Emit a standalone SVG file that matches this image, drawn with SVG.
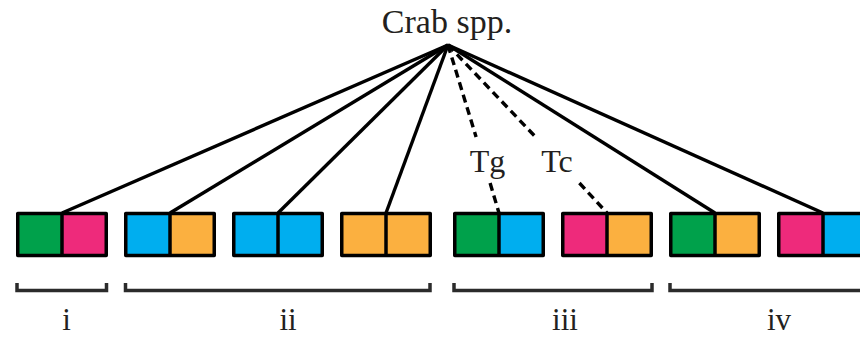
<svg xmlns="http://www.w3.org/2000/svg" width="860" height="337" viewBox="0 0 860 337">
<style>
.t{font-family:"Liberation Serif","Times New Roman",serif;fill:#231f20;text-anchor:middle}
.box{fill:none;stroke:#000;stroke-width:3.5;stroke-linejoin:round}
.div{stroke:#000;stroke-width:3.5}
.g{fill:#00a14b}.p{fill:#ee2a7b}.b{fill:#00aeef}.o{fill:#fbb040}
.c{stroke:#000;stroke-width:3.4;fill:none}
.d{stroke:#000;stroke-width:3.4;fill:none;stroke-dasharray:8 5}
.br{stroke:#2b2b2b;stroke-width:3.5;fill:none}
</style>
<rect width="860" height="337" fill="#fff"/>
<g id="root"><text class="t" x="447" y="33" font-size="34">Crab spp.</text></g>
<g id="connectors">
<line class="c" x1="448" y1="45" x2="62" y2="213"/>
<line class="c" x1="448" y1="45" x2="170" y2="213"/>
<line class="c" x1="448" y1="45" x2="278" y2="213"/>
<line class="c" x1="448" y1="45" x2="386" y2="213"/>
<line class="c" x1="448" y1="45" x2="715" y2="213"/>
<line class="c" x1="448" y1="45" x2="823" y2="213"/>
<line class="d" x1="448" y1="45" x2="476.1" y2="137"/>
<line class="d" x1="490.1" y1="183" x2="499" y2="213"/>
<line class="d" x1="448" y1="45" x2="535.6" y2="137"/>
<line class="d" x1="579.4" y1="183" x2="607" y2="213"/>
<text class="t" x="487.5" y="172" font-size="32">Tg</text>
<text class="t" x="557" y="172" font-size="32">Tc</text>
</g>
<g id="pair1" transform="translate(16,0)"><rect class="g" x="1.75" y="213.5" width="44.25" height="42"/><rect class="p" x="46" y="213.5" width="44.25" height="42"/><rect class="box" x="1.75" y="213.5" width="88.5" height="42"/><line class="div" x1="46" y1="213.5" x2="46" y2="255.5"/></g>
<g id="pair2" transform="translate(124,0)"><rect class="b" x="1.75" y="213.5" width="44.25" height="42"/><rect class="o" x="46" y="213.5" width="44.25" height="42"/><rect class="box" x="1.75" y="213.5" width="88.5" height="42"/><line class="div" x1="46" y1="213.5" x2="46" y2="255.5"/></g>
<g id="pair3" transform="translate(232,0)"><rect class="b" x="1.75" y="213.5" width="44.25" height="42"/><rect class="b" x="46" y="213.5" width="44.25" height="42"/><rect class="box" x="1.75" y="213.5" width="88.5" height="42"/><line class="div" x1="46" y1="213.5" x2="46" y2="255.5"/></g>
<g id="pair4" transform="translate(340,0)"><rect class="o" x="1.75" y="213.5" width="44.25" height="42"/><rect class="o" x="46" y="213.5" width="44.25" height="42"/><rect class="box" x="1.75" y="213.5" width="88.5" height="42"/><line class="div" x1="46" y1="213.5" x2="46" y2="255.5"/></g>
<g id="pair5" transform="translate(453,0)"><rect class="g" x="1.75" y="213.5" width="44.25" height="42"/><rect class="b" x="46" y="213.5" width="44.25" height="42"/><rect class="box" x="1.75" y="213.5" width="88.5" height="42"/><line class="div" x1="46" y1="213.5" x2="46" y2="255.5"/></g>
<g id="pair6" transform="translate(561,0)"><rect class="p" x="1.75" y="213.5" width="44.25" height="42"/><rect class="o" x="46" y="213.5" width="44.25" height="42"/><rect class="box" x="1.75" y="213.5" width="88.5" height="42"/><line class="div" x1="46" y1="213.5" x2="46" y2="255.5"/></g>
<g id="pair7" transform="translate(669,0)"><rect class="g" x="1.75" y="213.5" width="44.25" height="42"/><rect class="o" x="46" y="213.5" width="44.25" height="42"/><rect class="box" x="1.75" y="213.5" width="88.5" height="42"/><line class="div" x1="46" y1="213.5" x2="46" y2="255.5"/></g>
<g id="pair8" transform="translate(777,0)"><rect class="p" x="1.75" y="213.5" width="44.25" height="42"/><rect class="b" x="46" y="213.5" width="44.25" height="42"/><rect class="box" x="1.75" y="213.5" width="88.5" height="42"/><line class="div" x1="46" y1="213.5" x2="46" y2="255.5"/></g>
<g id="group-i"><path class="br" d="M17 283 V290.5 H106.5 V283"/><text class="t" x="66.5" y="330" font-size="31">i</text></g>
<g id="group-ii"><path class="br" d="M125.5 283 V290.5 H430 V283"/><text class="t" x="288" y="330" font-size="31">ii</text></g>
<g id="group-iii"><path class="br" d="M454 283 V290.5 H652 V283"/><text class="t" x="565" y="330" font-size="31">iii</text></g>
<g id="group-iv"><path class="br" d="M670 283 V290.5 H875"/><text class="t" x="779" y="330" font-size="31">iv</text></g>
</svg>
